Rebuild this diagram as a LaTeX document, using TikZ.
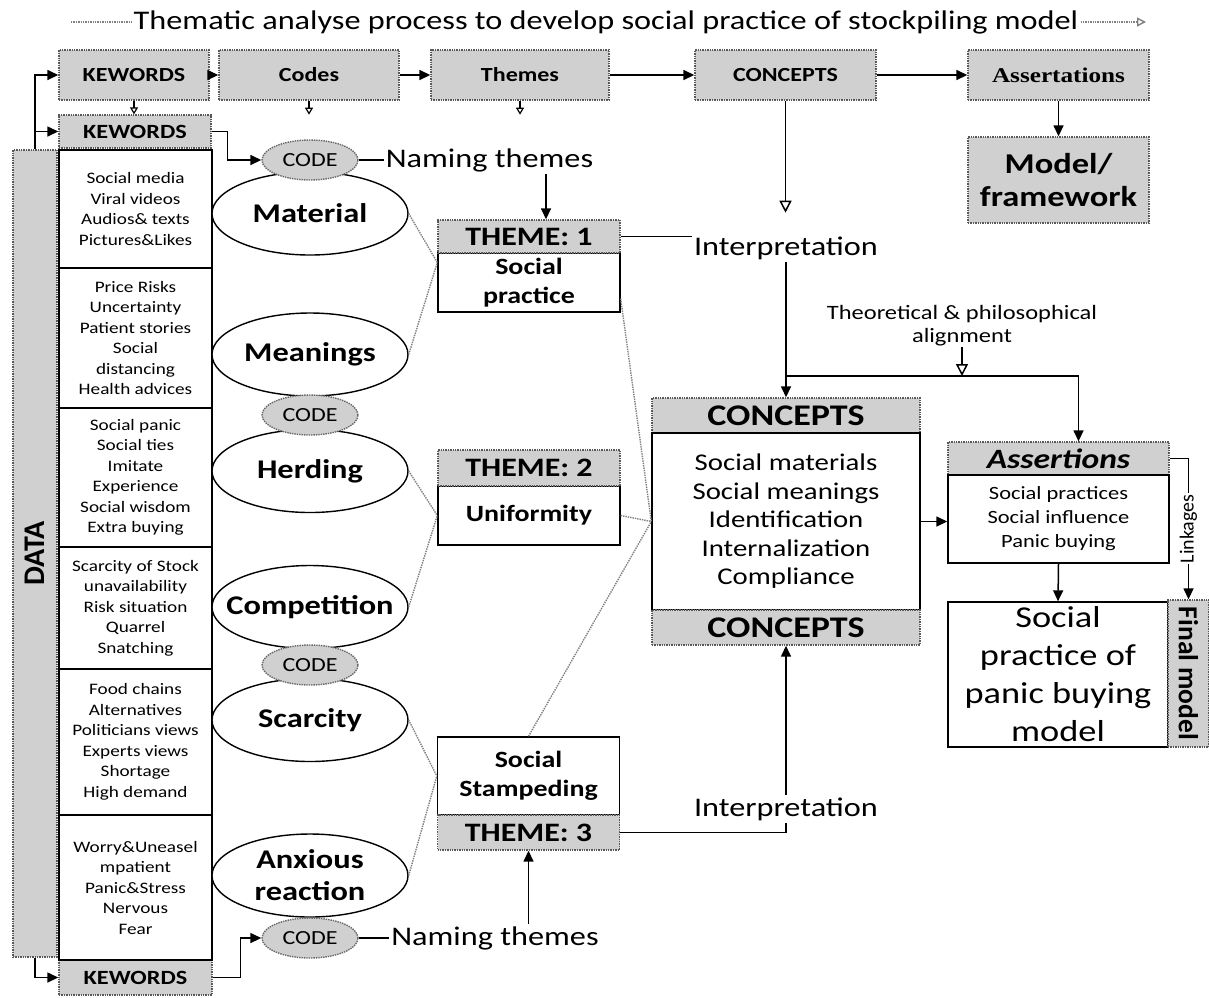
\documentclass[tikz,border=0pt]{standalone}
\usepackage{fontspec}
\setmainfont{Carlito}[FakeStretch=1.2]
\newfontfamily\serifwide{Liberation Serif}[FakeStretch=1.2]
\newfontfamily\plainsans{Carlito}
\usetikzlibrary{arrows.meta,calc,shapes.geometric}
\newcommand{\fsz}[2]{\fontsize{#1}{#2}\selectfont}
\tikzset{
  line/.style={line width=1.5pt, draw=black},
  arr/.style={line, -{Triangle[length=11pt,width=10pt]}},
  openarr/.style={line, -{Triangle[open,length=12pt,width=12pt]}},
  smallopen/.style={line width=1.2pt, -{Triangle[open,length=7pt,width=8pt]}},
  dotlink/.style={draw=black!50, densely dotted, line width=1.4pt},
  graybox/.style={rectangle, fill=boxgray, draw=black!65, densely dotted, line width=1.4pt, inner sep=0pt, align=center},
  whitebox/.style={rectangle, fill=white, draw=black, line width=1.4pt, inner sep=0pt, align=center},
  topbox/.style={graybox, minimum height=50, font=\bfseries\fsz{20}{24}},
  databox/.style={whitebox, minimum width=153, font=\fsz{16}{20.5}},
  oval/.style={ellipse, fill=white, draw=black, line width=1.4pt, minimum width=196, minimum height=83,
    inner xsep=-20pt, inner ysep=-6pt, align=center, font=\bfseries\fsz{27}{32}},
  codeoval/.style={ellipse, fill=boxgray, draw=black!60, densely dotted, line width=1.4pt,
    minimum width=96, minimum height=40, inner sep=0pt, font=\fsz{20}{22}},
  txt/.style={inner sep=2pt, font=\fsz{26.9}{30}}
}
\definecolor{boxgray}{RGB}{208,208,208}

\begin{document}
\begin{tikzpicture}[x=1pt,y=-1pt]
  \useasboundingbox (0,0) rectangle (1209,997);

  % heading
  \node[txt] (title) at (606,22) {Thematic analyse process to develop social practice of stockpiling model};
  \coordinate (tstart) at (71,22);
  \coordinate (tend) at (1146,22);
  \draw[dotlink] (tstart) -- (title.west);
  \draw[dotlink, -{Triangle[open,length=9pt,width=9pt]}] (title.east) -- (tend);

  % top row of steps
  \node[topbox, minimum width=150] (topkw) at (134,75) {KEWORDS};
  \node[topbox, minimum width=180] (topcodes) at (309,75) {Codes};
  \node[topbox, minimum width=178] (topthemes) at (520,75) {Themes};
  \node[topbox, minimum width=181] (topconcepts) at (785.5,75) {CONCEPTS};
  \node[topbox, minimum width=181, font=\serifwide\bfseries\fsz{21}{24}] (topassert) at (1058.5,75) {Assertations};
  \node[graybox, minimum width=181, minimum height=86, font=\bfseries\fsz{28.7}{33}] (modelfw) at (1058.5,180) {Model/\\framework};
  \foreach \a/\b in {topkw/topcodes, topcodes/topthemes, topthemes/topconcepts, topconcepts/topassert}{
    \draw[arr] (\a.east) -- (\b.west);
  }
  \draw[arr] (topassert.south) -- (modelfw.north);

  % data column
  \node[graybox, minimum width=44, minimum height=807] (data) at (35,553.5) {};
  \node[rotate=90, font=\plainsans\bfseries\fsz{30}{32}] (datalbl) at (data.center) {DATA};
  \node[graybox, minimum width=152, minimum height=33, font=\bfseries\fsz{20.2}{24}] (kw2) at (135,131.5) {KEWORDS};
  \node[graybox, minimum width=153, minimum height=35, font=\bfseries\fsz{20.2}{24}] (kw3) at (135.5,977.5) {KEWORDS};
  \foreach \n/\yc/\hgt/\txt in {
    d1/209/118/{Social media\\Viral videos\\Audios\& texts\\Pictures\&Likes},
    d2/338/140/{Price Risks\\Uncertainty\\Patient stories\\Social\\distancing\\Health advices},
    d3/477.5/139/{Social panic\\Social ties\\Imitate\\Experience\\Social wisdom\\Extra buying},
    d4/608/122/{Scarcity of Stock\\unavailability\\Risk situation\\Quarrel\\Snatching},
    d5/742/146/{Food chains\\Alternatives\\Politicians views\\Experts views\\Shortage\\High demand},
    d6/887.5/145/{Worry\&Uneasel\\mpatient\\Panic\&Stress\\Nervous\\Fear}}{
    \node[databox, minimum height=\hgt] (\n) at (135.5,\yc) {\txt};
  }

  \draw[smallopen] (topkw.south) -- (topkw.south |- kw2.north);
  \draw[smallopen] (topcodes.south) -- ++(0,14);
  \draw[smallopen] (topthemes.south) -- ++(0,14);
  \draw[openarr] (topconcepts.south) -- ++(0,112);

  \draw[arr] (data.north) |- (topkw.west);
  \draw[arr] (data.north) |- (kw2.west);
  \draw[arr] (data.south) |- (kw3.west);

  % codes
  \foreach \n/\yc/\txt in {material/213.5/Material, meanings/354.5/Meanings, herding/471/Herding,
    competition/607/Competition, scarcity/720/Scarcity, anxious/875.5/{Anxious\\reaction}}{
    \node[oval] (\n) at (310,\yc) {\txt};
  }
  \foreach \n/\yc in {code1/160, code2/415, code3/665, code4/938}{
    \node[codeoval] (\n) at (310,\yc) {CODE};
  }
  \draw[arr] (kw2.east) -- ++(16,0) |- (code1.west);
  \draw[arr] (kw3.east) -- ++(28,0) |- (code4.west);

  % themes
  \node[whitebox, minimum width=182, minimum height=59, font=\bfseries\fsz{23.3}{29}] (social1) at (529,282.5) {Social\\practice};
  \node[graybox, minimum width=182, minimum height=33, font=\bfseries\fsz{26.6}{30}] (theme1) at (529,236.5) {THEME: 1};
  \node[whitebox, minimum width=182, minimum height=59, font=\bfseries\fsz{23.3}{29}] (uniform) at (529,515.5) {Uniformity};
  \node[graybox, minimum width=182, minimum height=36, font=\bfseries\fsz{26.6}{30}] (theme2) at (529,468) {THEME: 2};
  \node[whitebox, minimum width=182, minimum height=78, font=\bfseries\fsz{23.3}{29}] (stamp) at (528.5,776) {Social\\Stampeding};
  \node[graybox, minimum width=182, minimum height=35, font=\bfseries\fsz{26.6}{30}] (theme3) at (528.5,832.5) {THEME: 3};

  \node[txt] (name1) at (489.5,160) {Naming themes};
  \node[txt] (name2) at (495,938) {Naming themes};
  \draw[line] (code1.east) -- (name1.west);
  \draw[line] (code4.east) -- (name2.west);
  \coordinate (drop1) at ($(theme1.north)+(17,0)$);
  \draw[arr] (name1.south -| drop1) -- (drop1);
  \draw[arr] (name2.north -| theme3.south) -- (theme3.south);

  \foreach \e in {material, meanings}{
    \draw[dotlink] (\e.east) -- ($(social1.west)+(0,-20)$);
  }
  \foreach \e in {herding, competition}{
    \draw[dotlink] (\e.east) -- (uniform.west);
  }
  \foreach \e in {scarcity, anxious}{
    \draw[dotlink] (\e.east) -- (stamp.west);
  }

  % concepts
  \node[graybox, minimum width=268, minimum height=35, font=\bfseries\fsz{30}{34}] (conhd) at (786,415.5) {CONCEPTS};
  \node[whitebox, minimum width=268, minimum height=177, font=\fsz{24}{28.5}] (conbody) at (786,521.5)
    {Social materials\\Social meanings\\Identification\\Internalization\\Compliance};
  \node[graybox, minimum width=268, minimum height=35, font=\bfseries\fsz{30}{34}] (conft) at (786,627.5) {CONCEPTS};

  \draw[dotlink] (social1.-10) -- (conbody.west);
  \draw[dotlink] (uniform.east) -- (conbody.west);
  \draw[dotlink] (stamp.north) -- (conbody.west);

  % interpretation
  \node[txt] (interp1) at (786,248) {Interpretation};
  \node[txt] (interp2) at (786,809) {Interpretation};
  \node[inner sep=1pt, align=center, font=\fsz{20.4}{23}] (theory) at (962,325.5) {Theoretical \& philosophical\\alignment};
  \draw[line] (theme1.east) -- (theme1.east -| interp1.west);
  \draw[arr] (interp1.south) -- (conhd.north);
  \coordinate (split) at (786,376);
  \draw[openarr] (theory.south) -- (theory.south |- split);
  \draw[line] (theme3.east) -| (interp2.south);
  \draw[arr] (interp2.north) -- (conft.south);

  % assertions and final model
  \node[graybox, minimum width=221, minimum height=33, font=\bfseries\itshape\fsz{28}{32}] (asshd) at (1058.5,458.5) {Assertions};
  \node[whitebox, minimum width=221, minimum height=88, font=\fsz{18.7}{24}] (assbody) at (1058.5,519)
    {Social practices\\Social influence\\Panic buying};
  \node[whitebox, minimum width=220, minimum height=145, font=\fsz{30.3}{38}] (final) at (1058,674.5)
    {Social\\practice of\\panic buying\\model};
  \node[graybox, minimum width=41, minimum height=147] (finalbar) at (1188.5,673.5) {};
  \node[rotate=-90, font=\plainsans\bfseries\fsz{27.5}{30}] (finallbl) at (finalbar.center) {Final model};

  \draw[arr] (split) -| ($(asshd.north)+(20,0)$);
  \draw[arr] (conbody.east) -- (conbody.east -| assbody.west);
  \draw[arr] (assbody.south) -- (final.north);
  \draw[arr] (asshd.east) -| node[pos=0.75, rotate=90, fill=white, inner sep=1pt, font=\plainsans\fsz{20}{22}] (linkage) {Linkages} (finalbar.north);

\end{tikzpicture}
\end{document}
